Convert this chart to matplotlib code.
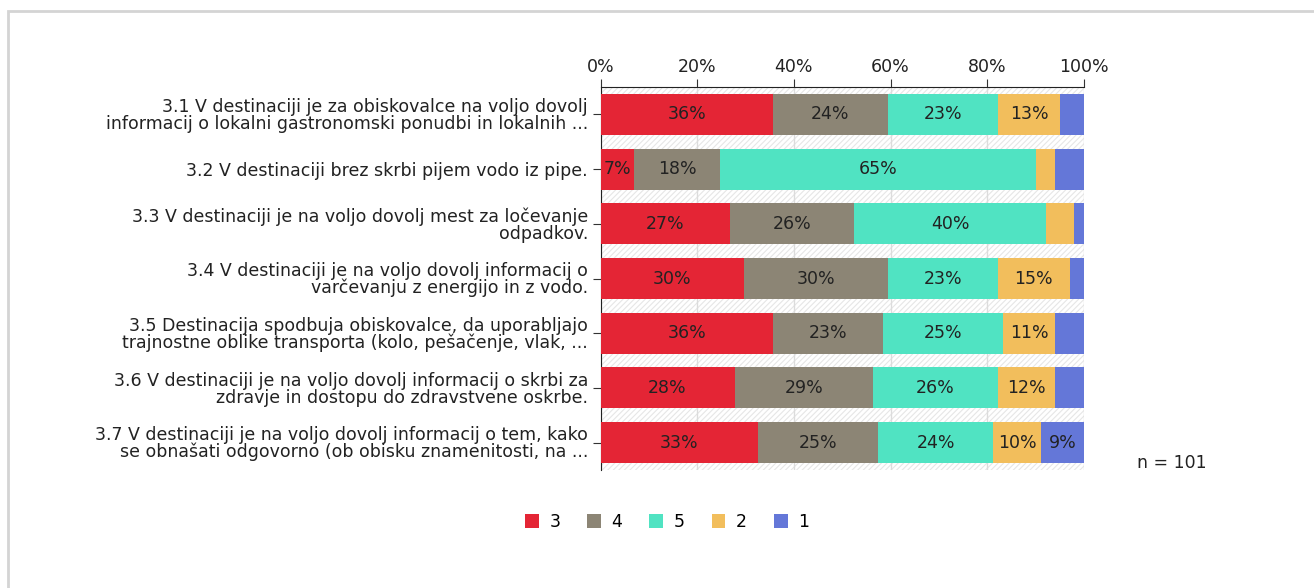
import matplotlib
matplotlib.use("Agg")
import matplotlib.pyplot as plt
from matplotlib.patches import Rectangle, Patch

# answers per statement (counts out of n)
n = 101
statements = [
    "3.1 V destinaciji je za obiskovalce na voljo dovolj\ninformacij o lokalni gastronomski ponudbi in lokalnih ...",
    "3.2 V destinaciji brez skrbi pijem vodo iz pipe.",
    "3.3 V destinaciji je na voljo dovolj mest za ločevanje\nodpadkov.",
    "3.4 V destinaciji je na voljo dovolj informacij o\nvarčevanju z energijo in z vodo.",
    "3.5 Destinacija spodbuja obiskovalce, da uporabljajo\ntrajnostne oblike transporta (kolo, pešačenje, vlak, ...",
    "3.6 V destinaciji je na voljo dovolj informacij o skrbi za\nzdravje in dostopu do zdravstvene oskrbe.",
    "3.7 V destinaciji je na voljo dovolj informacij o tem, kako\nse obnašati odgovorno (ob obisku znamenitosti, na ...",
]
grades = ["3", "4", "5", "2", "1"]
cnt_3 = [36, 7, 27, 30, 36, 28, 33]
cnt_4 = [24, 18, 26, 30, 23, 29, 25]
cnt_5 = [23, 66, 40, 23, 25, 26, 24]
cnt_2 = [13, 4, 6, 15, 11, 12, 10]
cnt_1 = [5, 6, 2, 3, 6, 6, 9]
colors = ["#E42535", "#8C8575", "#50E3C2", "#F2BE5C", "#6477D8"]

FS = 12.5
W, H = 1314, 588
fig = plt.figure(figsize=(W / 100, H / 100), dpi=100)
plt.rcParams['hatch.color'] = '#e6e6e6'
plt.rcParams['hatch.linewidth'] = 0.8

# outer frame (only top and left edges fall inside the picture)
fig.patches.append(Rectangle((8 / W, -0.05), 1.2, 1 - 11 / H + 0.05, transform=fig.transFigure,
                             fill=False, edgecolor='#d4d4d4', linewidth=2))

ax = fig.add_axes([600.5 / W, 1 - 470 / H, (1084 - 600.5) / W, (470 - 87) / H])
ax.add_patch(Rectangle((0, 0), 1, 1, transform=ax.transAxes, facecolor='white',
                       edgecolor='#e6e6e6', hatch='//////', linewidth=0, zorder=0))

series = [cnt_3, cnt_4, cnt_5, cnt_2, cnt_1]
ypos = list(range(len(statements)))
left = [0] * len(statements)
for s, col in zip(series, colors):
    pct = [v / n * 100 for v in s]
    ax.barh(ypos, pct, left=left, height=0.75, color=col, zorder=3)
    for i, p in enumerate(pct):
        if round(p) >= 7:
            ax.text(left[i] + p / 2, i, "%d%%" % round(p), ha='center', va='center',
                    fontsize=FS, color='#222222', zorder=4)
    left = [a + b for a, b in zip(left, pct)]

ax.set_xlim(0, 100)
ax.set_ylim(len(statements) - 0.5, -0.5)
ax.set_xticks([0, 20, 40, 60, 80, 100])
ax.set_xticklabels(["0%", "20%", "40%", "60%", "80%", "100%"])
ax.xaxis.tick_top()
ax.set_yticks(ypos)
ax.set_yticklabels(statements, fontsize=FS, color='#222222', linespacing=0.9)
ax.tick_params(axis='x', labelsize=FS, labelcolor='#222222', length=6, color='#333333', pad=2)
ax.tick_params(axis='y', length=6, color='#333333', pad=3)
ax.grid(axis='x', color='#dcdcdc', linewidth=1, zorder=1)
for side in ['right', 'bottom']:
    ax.spines[side].set_visible(False)
ax.spines['left'].set_color('#222222')
ax.spines['top'].set_color('#222222')

fig.text(1137 / W, 1 - 463 / H, "n = 101", fontsize=FS, color='#222222', va='center')

handles = [Patch(facecolor=c, edgecolor='none') for c in colors]
fig.legend(handles, grades, loc='center', bbox_to_anchor=(667 / W, 1 - 522 / H), ncol=5,
           frameon=False, fontsize=FS, handlelength=0.8, handleheight=0.8,
           handletextpad=0.6, columnspacing=1.55)

fig.savefig("out.png", dpi=100)
